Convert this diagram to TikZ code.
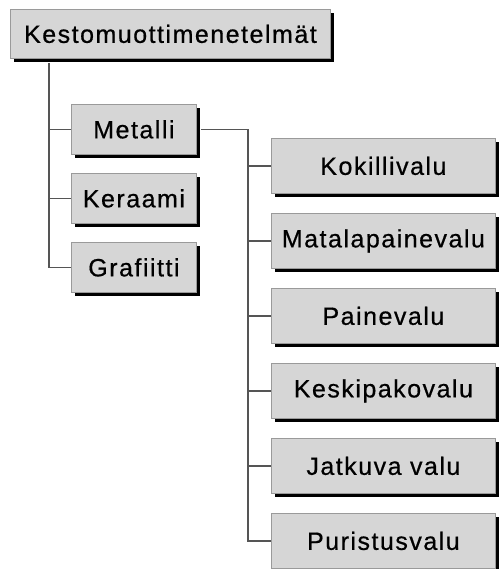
\documentclass[tikz,border=0pt]{standalone}
\usepackage{fontspec}
\setmainfont{Liberation Sans}[LetterSpace=6,FakeBold=0.6]
\usetikzlibrary{shadows}
\definecolor{boxfill}{HTML}{D6D6D6}
\definecolor{boxline}{HTML}{9A9A9A}
\definecolor{connline}{HTML}{555555}
\begin{document}
\begin{tikzpicture}[x=1pt,y=-1pt,
  box/.style={draw=boxline, line width=0.8pt, fill=boxfill, rectangle, anchor=north west,
    inner sep=0pt, font=\fontsize{25}{28}\selectfont,
    drop shadow={shadow xshift=4pt, shadow yshift=-4pt, fill=black, opacity=1}},
  topbox/.style={box, minimum width=320pt, minimum height=49pt},
  midbox/.style={box, minimum width=125pt, minimum height=50pt},
  rightbox/.style={box, minimum width=224pt, minimum height=55pt},
  conn/.style={draw=connline, line width=1.4pt}]
\useasboundingbox (0,0) rectangle (499,569);
\node[topbox] (top) at (10,9) {Kestomuottimenetelmät};
\node[midbox] (metalli) at (71,104) {Metalli};
\node[midbox] (keraami) at (71,173) {Keraami};
\node[midbox] (grafiitti) at (71,242) {Grafiitti};
\node[rightbox] (kok) at (271,138) {Kokillivalu};
\node[rightbox] (mat) at (271,213) {Matalapainevalu};
\node[rightbox] (pai) at (271,288) {Painevalu};
\node[rightbox] (kes) at (271,363) {Keskipakovalu};
\node[rightbox] (jat) at (271,438) {Jatkuva valu};
\node[rightbox] (pur) at (271,513) {Puristusvalu};
\coordinate (trunk) at (49,0);
\coordinate (bus) at (248,0);
\draw[conn] (trunk |- top.south) ++(0,4) -- (trunk |- grafiitti.west) -- (grafiitti.west);
\draw[conn] (trunk |- metalli.west) -- (metalli.west);
\draw[conn] (trunk |- keraami.west) -- (keraami.west);
\draw[conn] ([xshift=4pt]metalli.east) -| (bus |- pur.west) -- (pur.west);
\foreach \n in {kok,mat,pai,kes,jat}{
  \draw[conn] (bus |- \n.west) -- (\n.west);
}
\end{tikzpicture}
\end{document}
